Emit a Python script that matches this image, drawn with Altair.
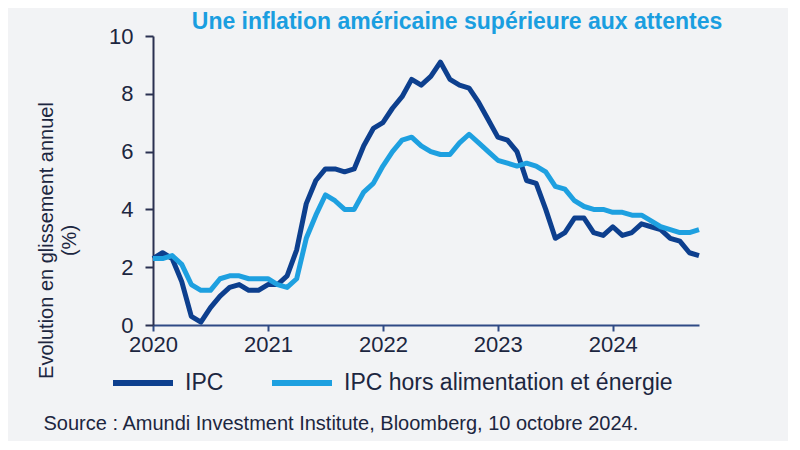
import altair as alt
import pandas as pd

# Monthly index: 0 = Dec 2019 ... 57 = Sep 2024
months = list(range(58))
ipc = [2.3,
       2.5, 2.3, 1.5, 0.3, 0.1, 0.6, 1.0, 1.3, 1.4, 1.2, 1.2, 1.4,
       1.4, 1.7, 2.6, 4.2, 5.0, 5.4, 5.4, 5.3, 5.4, 6.2, 6.8, 7.0,
       7.5, 7.9, 8.5, 8.3, 8.6, 9.1, 8.5, 8.3, 8.2, 7.7, 7.1, 6.5,
       6.4, 6.0, 5.0, 4.9, 4.0, 3.0, 3.2, 3.7, 3.7, 3.2, 3.1, 3.4,
       3.1, 3.2, 3.5, 3.4, 3.3, 3.0, 2.9, 2.5, 2.4]
core = [2.3,
        2.3, 2.4, 2.1, 1.4, 1.2, 1.2, 1.6, 1.7, 1.7, 1.6, 1.6, 1.6,
        1.4, 1.3, 1.6, 3.0, 3.8, 4.5, 4.3, 4.0, 4.0, 4.6, 4.9, 5.5,
        6.0, 6.4, 6.5, 6.2, 6.0, 5.9, 5.9, 6.3, 6.6, 6.3, 6.0, 5.7,
        5.6, 5.5, 5.6, 5.5, 5.3, 4.8, 4.7, 4.3, 4.1, 4.0, 4.0, 3.9,
        3.9, 3.8, 3.8, 3.6, 3.4, 3.3, 3.2, 3.2, 3.3]
series_names = ["IPC", "IPC hors alimentation et énergie"]
series_colors = ["#0d3f8e", "#1ea0e0"]
year_ticks = [0, 12, 24, 36, 48]
y_ticks = [0, 2, 4, 6, 8, 10]

df = pd.concat([
    pd.DataFrame({"m": months, "v": ipc, "s": series_names[0], "o": 0}),
    pd.DataFrame({"m": months, "v": core, "s": series_names[1], "o": 1}),
])

dark = "#1c2640"

chart = alt.Chart(df).mark_line(strokeWidth=5, strokeJoin="round").encode(
    x=alt.X("m:Q", scale=alt.Scale(domain=[0, 57], nice=False, zero=False),
            axis=alt.Axis(values=year_ticks, labelExpr="2020 + datum.value / 12",
                          grid=False, tickSize=6, tickColor="#2f4a85", domainColor="#2f4a85",
                          domainWidth=2, tickWidth=2, labelFontSize=22, labelColor=dark,
                          labelPadding=3, labelFont="Liberation Sans", labelFlush=False,
                          title="Source : Amundi Investment Institute, Bloomberg, 10 octobre 2024.",
                          titleX=-110, titleY=98, titleAlign="left", titleBaseline="middle",
                          titleFontSize=20, titleFontWeight="normal", titleColor=dark,
                          titleFont="Liberation Sans")),
    y=alt.Y("v:Q", scale=alt.Scale(domain=[0, 10], nice=False),
            axis=alt.Axis(values=y_ticks, grid=False, tickSize=8, tickColor="#2a3050",
                          domainColor="#2a3050", domainWidth=2, tickWidth=2,
                          labelFontSize=22, labelColor=dark, labelPadding=12,
                          labelFont="Liberation Sans",
                          title=["Evolution en glissement annuel", "(%)"],
                          titleFontSize=20, titleFontWeight="normal", titleColor=dark,
                          titleFont="Liberation Sans", titlePadding=29, titleY=204,
                          titleLineHeight=23)),
    color=alt.Color("s:N", scale=alt.Scale(domain=series_names, range=series_colors),
                    sort=series_names,
                    legend=alt.Legend(title=None, orient="none", legendX=-43, legendY=314,
                                      direction="horizontal", symbolType="stroke",
                                      symbolSize=3600, symbolStrokeWidth=6,
                                      labelFontSize=23, labelColor=dark, labelLimit=0,
                                      labelFont="Liberation Sans", labelOffset=9,
                                      columnPadding=36)),
    order="o:Q",
).properties(
    width=546,
    height=289,
    background="#f2f3f5",
    padding={"left": 28, "top": 3, "right": 65, "bottom": 8},
    title=alt.TitleParams("Une inflation américaine supérieure aux attentes",
                          fontSize=23, fontWeight="bold", color="#1a9ee0",
                          font="Liberation Sans", anchor="middle", dx=31, offset=-9),
).configure_view(stroke=None)

chart.save("out.html", embed_options={"renderer": "svg", "actions": False})
